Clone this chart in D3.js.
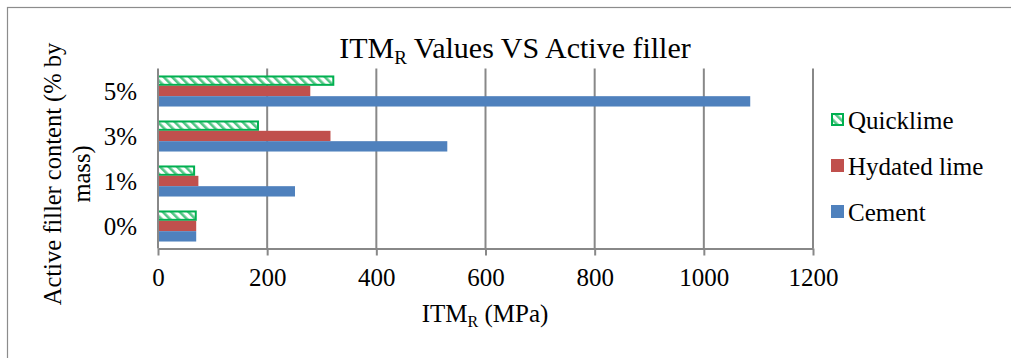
<!DOCTYPE html>
<html>
<head>
<meta charset="utf-8">
<script src="https://cdn.jsdelivr.net/npm/d3@7"></script>
<style>
  html, body { margin: 0; padding: 0; background: #fff; }
  svg text { font-family: "Liberation Serif", "Times New Roman", Times, "DejaVu Serif", serif; fill: #000; }
</style>
</head>
<body>
<svg id="chart" width="1011" height="358"></svg>
<script>
// Active filler content levels (top to bottom)
const categories = ["5%", "3%", "1%", "0%"];
// Series drawn top to bottom within each group
const seriesNames = ["Quicklime", "Hydated lime", "Cement"];
// ITM_R values in MPa, per category order above
const quicklime   = [323, 185, 68, 71];
const hydatedLime = [279, 316, 74, 70];
const cement      = [1085, 530, 251, 70];
const xTicks = [0, 200, 400, 600, 800, 1000, 1200];

const seriesValues = [quicklime, hydatedLime, cement];
const colors = { "Quicklime": "#00B050", "Hydated lime": "#C0504D", "Cement": "#4F81BD" };
const FONT = '"Liberation Serif", "Times New Roman", Times, "DejaVu Serif", serif';

const svg = d3.select("#chart");

// Pattern for the hatched series
const defs = svg.append("defs");
const pat = defs.append("pattern")
  .attr("id", "hatch")
  .attr("patternUnits", "userSpaceOnUse")
  .attr("width", 6).attr("height", 6)
  .attr("patternTransform", "rotate(-45)");
pat.append("rect").attr("width", 6).attr("height", 6).attr("fill", "#fff");
pat.append("rect").attr("x", 0).attr("y", 0).attr("width", 2.6).attr("height", 6).attr("fill", "#52c684");

// Outer frame
svg.append("rect")
  .attr("x", 7.5).attr("y", 7.5)
  .attr("width", 1030).attr("height", 380)
  .attr("fill", "none").attr("stroke", "#8c8c8c").attr("stroke-width", 1.2);

const plot = { left: 158, right: 813, top: 68.5, bottom: 248.5 };

const x = d3.scaleLinear().domain([0, 1200]).range([plot.left, plot.right]);
const y = d3.scaleBand().domain(categories).range([plot.top, plot.bottom])
  .paddingInner(0.31).paddingOuter(0.155);
const ySub = d3.scaleBand().domain(seriesNames).range([0, y.bandwidth()]);

// Vertical gridlines
svg.append("g").selectAll("line")
  .data(xTicks.slice(1))
  .join("line")
  .attr("x1", d => x(d)).attr("x2", d => x(d))
  .attr("y1", plot.top).attr("y2", plot.bottom)
  .attr("stroke", "#888").attr("stroke-width", 2);

// Bars
const rows = [];
categories.forEach((c, i) => {
  seriesNames.forEach((s, j) => rows.push({ cat: c, series: s, value: seriesValues[j][i] }));
});

svg.append("g").selectAll("rect")
  .data(rows)
  .join("rect")
  .attr("x", x(0))
  .attr("y", d => y(d.cat) + ySub(d.series) + (d.series === "Quicklime" ? 1 : 0))
  .attr("width", d => x(d.value) - x(0) - (d.series === "Quicklime" ? 1 : 0))
  .attr("height", d => ySub.bandwidth() - (d.series === "Quicklime" ? 2 : 0))
  .attr("fill", d => d.series === "Quicklime" ? "url(#hatch)" : colors[d.series])
  .attr("stroke", d => d.series === "Quicklime" ? colors.Quicklime : "none")
  .attr("stroke-width", 2);

// Y axis line
svg.append("line")
  .attr("x1", x(0)).attr("x2", x(0))
  .attr("y1", plot.top).attr("y2", plot.bottom)
  .attr("stroke", "#888").attr("stroke-width", 2);

// X axis
const xAxis = svg.append("g")
  .attr("transform", `translate(0,${plot.bottom})`)
  .call(d3.axisBottom(x).tickValues(xTicks).tickFormat(d3.format("d"))
    .tickSize(7).tickSizeOuter(0).tickPadding(13));
xAxis.attr("font-family", null).attr("font-size", null);
xAxis.select(".domain").attr("stroke", "#888").attr("stroke-width", 2);
xAxis.selectAll(".tick line").attr("stroke", "#888").attr("stroke-width", 2);
xAxis.selectAll(".tick text")
  .style("font-family", FONT).attr("font-size", 25).attr("fill", "#000");

// Y category labels
svg.append("g").selectAll("text")
  .data(categories)
  .join("text")
  .attr("x", 137)
  .attr("y", d => y(d) + y.bandwidth() / 2)
  .attr("dy", "0.36em")
  .attr("text-anchor", "end")
  .attr("font-size", 25)
  .text(d => d);

// Title with subscript
const title = svg.append("text")
  .attr("x", 515).attr("y", 58)
  .attr("text-anchor", "middle")
  .attr("font-size", 30);
title.append("tspan").text("ITM");
title.append("tspan").attr("font-size", 19).attr("dy", 6).text("R");
title.append("tspan").attr("dy", -6).text(" Values VS Active filler");

// X axis title
const xt = svg.append("text")
  .attr("x", 485).attr("y", 322)
  .attr("text-anchor", "middle")
  .attr("font-size", 25);
xt.append("tspan").text("ITM");
xt.append("tspan").attr("font-size", 16).attr("dy", 5).text("R");
xt.append("tspan").attr("dy", -5).text(" (MPa)");

// Y axis title (two lines, rotated)
const yt = svg.append("text")
  .attr("transform", "translate(0,174) rotate(-90)")
  .attr("text-anchor", "middle")
  .attr("font-size", 24.5);
yt.append("tspan").attr("x", 0).attr("y", 61).text("Active filler content (% by");
yt.append("tspan").attr("x", 0).attr("y", 90).text("mass)");

// Legend
const legend = svg.append("g");
const legendY = [120, 166, 212];
seriesNames.forEach((s, i) => {
  const g = legend.append("g").attr("transform", `translate(831,${legendY[i]})`);
  if (s === "Quicklime") {
    g.append("rect").attr("x", 1).attr("y", -6).attr("width", 11).attr("height", 11)
      .attr("fill", "url(#hatch)").attr("stroke", colors[s]).attr("stroke-width", 2);
  } else {
    g.append("rect").attr("x", 0).attr("y", -7).attr("width", 13).attr("height", 13)
      .attr("fill", colors[s]);
  }
  g.append("text").attr("x", 17).attr("y", 0).attr("dy", "0.34em")
    .attr("font-size", 25).text(s);
});
</script>
</body>
</html>
